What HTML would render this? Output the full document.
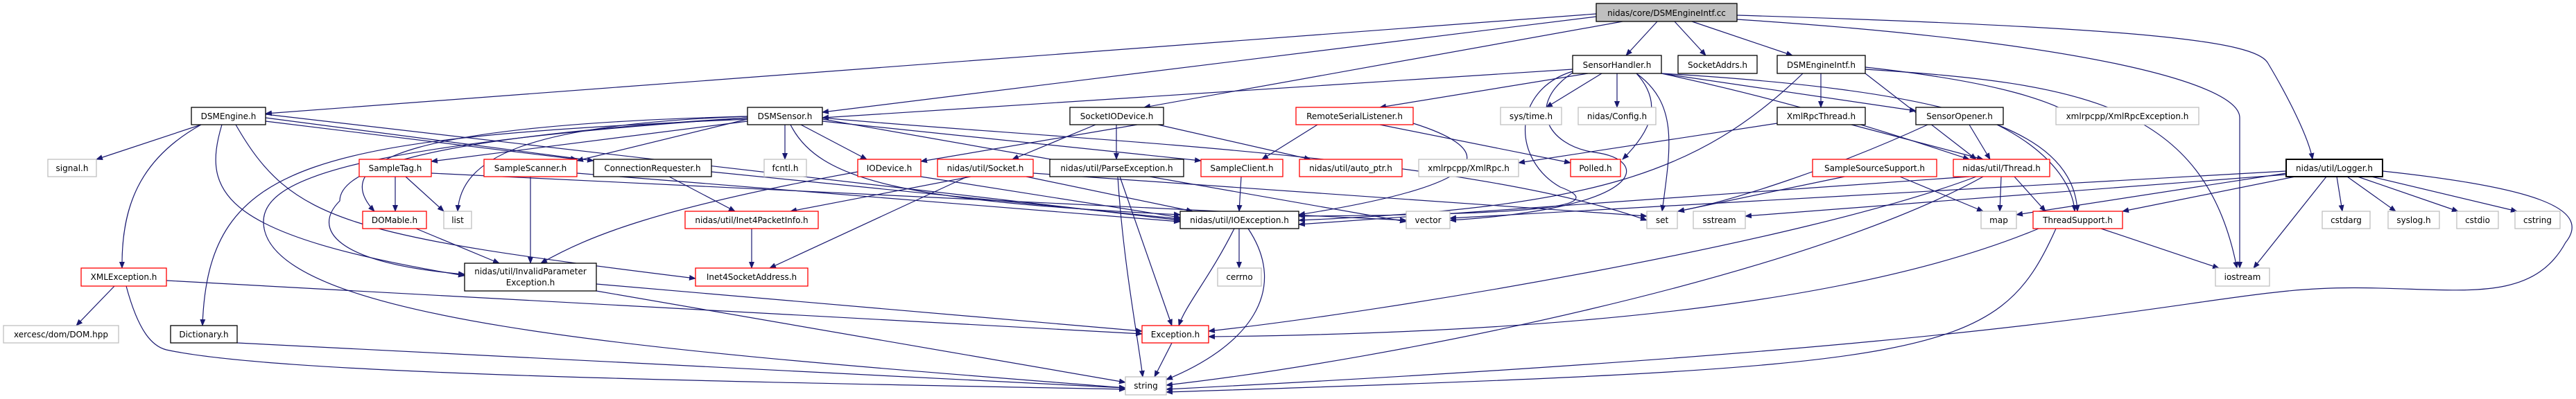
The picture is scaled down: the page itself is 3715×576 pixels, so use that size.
<!DOCTYPE html>
<html><head><meta charset="utf-8"><style>
html,body{margin:0;padding:0;background:#fff;width:3715px;height:576px;overflow:hidden}
text{font-family:"DejaVu Sans","Liberation Sans",sans-serif;font-size:12px;fill:#000}
.b{fill:#fff;stroke:#000;stroke-width:1.3}
.r{fill:#fff;stroke:#f00;stroke-width:1.3}
.g{fill:#fff;stroke:#bfbfbf;stroke-width:1.3}
.e path{fill:none;stroke:#191970;stroke-width:1.2}
</style></head><body>
<svg width="3715" height="576" viewBox="0 0 3715 576" xmlns="http://www.w3.org/2000/svg">
<defs><marker id="a" markerWidth="10" markerHeight="8" refX="9" refY="4" orient="auto" markerUnits="userSpaceOnUse"><path d="M0,0 L10,4 L0,8 z" fill="#191970"/></marker></defs>
<g class="e" marker-end="url(#a)">
<path d="M2302,20 L383,164" marker-end="url(#a)"/>
<path d="M2302,24 L1186,162" marker-end="url(#a)"/>
<path d="M2340,31 L1650,155" marker-end="url(#a)"/>
<path d="M2390,31 L2345,80" marker-end="url(#a)"/>
<path d="M2415,31 L2460,80" marker-end="url(#a)"/>
<path d="M2440,31 L2585,80" marker-end="url(#a)"/>
<path d="M2505,28 C3000,60 3230,120 3230,170 L3230,387" marker-end="url(#a)"/>
<path d="M2505,22 C3100,40 3250,60 3270,90 C3300,140 3330,200 3335,230" marker-end="url(#a)"/>
<path d="M2268,100 L1186,170" marker-end="url(#a)"/>
<path d="M2290,106 L1990,155" marker-end="url(#a)"/>
<path d="M2310,106 L2230,155" marker-end="url(#a)"/>
<path d="M2332,106 L2332,155" marker-end="url(#a)"/>
<path d="M2360,106 C2400,150 2380,190 2340,230" marker-end="url(#a)"/>
<path d="M2268,103 C2180,130 2180,230 2250,270 C2330,300 2200,310 1873,312" marker-end="url(#a)"/>
<path d="M2268,105 C2200,150 2230,210 2300,220 C2380,230 2380,300 2091,318" marker-end="url(#a)"/>
<path d="M2360,106 C2420,150 2410,210 2397,305" marker-end="url(#a)"/>
<path d="M2396,106 L2763,160" marker-end="url(#a)"/>
<path d="M2396,106 C2600,150 2750,200 2840,230" marker-end="url(#a)"/>
<path d="M2396,106 C2800,130 2990,180 2996,305" marker-end="url(#a)"/>
<path d="M2600,106 C2450,250 2300,300 1873,318" marker-end="url(#a)"/>
<path d="M2626,106 L2626,155" marker-end="url(#a)"/>
<path d="M2690,97 C2900,120 2960,150 2990,165" marker-end="url(#a)"/>
<path d="M2690,100 C3000,120 3180,150 3226,387" marker-end="url(#a)"/>
<path d="M2690,106 L2850,230" marker-end="url(#a)"/>
<path d="M2563,178 L2190,235" marker-end="url(#a)"/>
<path d="M2670,180 L2860,230" marker-end="url(#a)"/>
<path d="M2840,180 L2870,230" marker-end="url(#a)"/>
<path d="M2880,180 C2960,220 2990,270 2992,305" marker-end="url(#a)"/>
<path d="M2780,180 C2650,240 2500,290 2420,305" marker-end="url(#a)"/>
<path d="M290,180 L139,230" marker-end="url(#a)"/>
<path d="M290,180 C200,230 175,300 176,387" marker-end="url(#a)"/>
<path d="M320,180 C290,280 320,340 670,398" marker-end="url(#a)"/>
<path d="M383,170 L856,232" marker-end="url(#a)"/>
<path d="M383,175 L832,230" marker-end="url(#a)"/>
<path d="M340,180 C420,320 500,340 1003,402" marker-end="url(#a)"/>
<path d="M383,165 L1702,318" marker-end="url(#a)"/>
<path d="M1078,172 C450,200 300,230 292,470" marker-end="url(#a)"/>
<path d="M1078,175 L622,233" marker-end="url(#a)"/>
<path d="M1078,172 L832,232" marker-end="url(#a)"/>
<path d="M1078,168 C600,180 470,230 540,305" marker-end="url(#a)"/>
<path d="M1078,168 C750,180 665,230 660,305" marker-end="url(#a)"/>
<path d="M1132,180 L1132,230" marker-end="url(#a)"/>
<path d="M1155,180 L1250,230" marker-end="url(#a)"/>
<path d="M1186,175 L1732,232" marker-end="url(#a)"/>
<path d="M1078,170 C580,200 490,250 490,290 C450,330 480,380 670,396" marker-end="url(#a)"/>
<path d="M1078,170 C500,210 380,260 380,320 C380,470 1000,510 1623,560" marker-end="url(#a)"/>
<path d="M1140,180 C1180,260 1300,290 1702,310" marker-end="url(#a)"/>
<path d="M1186,172 L2028,320" marker-end="url(#a)"/>
<path d="M1186,170 C1500,200 2100,220 2375,318" marker-end="url(#a)"/>
<path d="M1640,180 L1328,233" marker-end="url(#a)"/>
<path d="M1580,180 L1460,230" marker-end="url(#a)"/>
<path d="M1610,180 L1610,230" marker-end="url(#a)"/>
<path d="M1670,180 L1890,230" marker-end="url(#a)"/>
<path d="M1900,180 L1820,230" marker-end="url(#a)"/>
<path d="M1990,180 L2265,235" marker-end="url(#a)"/>
<path d="M2038,178 C2140,210 2190,260 1873,310" marker-end="url(#a)"/>
<path d="M570,255 L570,305" marker-end="url(#a)"/>
<path d="M585,255 L640,305" marker-end="url(#a)"/>
<path d="M622,250 L2028,318" marker-end="url(#a)"/>
<path d="M765,255 L765,380" marker-end="url(#a)"/>
<path d="M832,250 L1702,320" marker-end="url(#a)"/>
<path d="M965,255 L1060,305" marker-end="url(#a)"/>
<path d="M1026,248 L1702,316" marker-end="url(#a)"/>
<path d="M1237,248 C950,300 850,340 780,380" marker-end="url(#a)"/>
<path d="M1328,255 L1702,314" marker-end="url(#a)"/>
<path d="M1400,255 L1140,305" marker-end="url(#a)"/>
<path d="M1395,255 L1110,387" marker-end="url(#a)"/>
<path d="M1480,255 L1720,305" marker-end="url(#a)"/>
<path d="M1490,250 L2375,312" marker-end="url(#a)"/>
<path d="M1615,255 L1690,470" marker-end="url(#a)"/>
<path d="M1612,255 C1620,380 1640,480 1648,544" marker-end="url(#a)"/>
<path d="M1790,255 L1787,305" marker-end="url(#a)"/>
<path d="M2740,255 L2860,305" marker-end="url(#a)"/>
<path d="M2660,255 L2420,305" marker-end="url(#a)"/>
<path d="M2886,255 L2884,305" marker-end="url(#a)"/>
<path d="M2905,255 L2950,305" marker-end="url(#a)"/>
<path d="M2840,255 L1873,324" marker-end="url(#a)"/>
<path d="M2850,255 C2600,350 2000,450 1743,478" marker-end="url(#a)"/>
<path d="M2860,255 C2600,400 2000,520 1682,556" marker-end="url(#a)"/>
<path d="M3297,250 L2908,310" marker-end="url(#a)"/>
<path d="M3297,247 L2091,315" marker-end="url(#a)"/>
<path d="M3297,252 L2517,312" marker-end="url(#a)"/>
<path d="M3310,255 L3061,305" marker-end="url(#a)"/>
<path d="M3370,255 L3378,305" marker-end="url(#a)"/>
<path d="M3385,255 L3455,305" marker-end="url(#a)"/>
<path d="M3400,255 L3545,305" marker-end="url(#a)"/>
<path d="M3420,255 L3630,305" marker-end="url(#a)"/>
<path d="M3355,255 L3250,387" marker-end="url(#a)"/>
<path d="M3436,247 C3650,270 3740,300 3700,350 C3640,460 3500,400 3300,420 C3100,440 2900,500 1682,562" marker-end="url(#a)"/>
<path d="M600,330 L720,380" marker-end="url(#a)"/>
<path d="M1084,330 L1084,387" marker-end="url(#a)"/>
<path d="M1780,330 C1745,400 1710,440 1700,470" marker-end="url(#a)"/>
<path d="M1787,330 L1787,387" marker-end="url(#a)"/>
<path d="M1800,330 C1860,420 1800,500 1682,548" marker-end="url(#a)"/>
<path d="M860,410 L1647,478" marker-end="url(#a)"/>
<path d="M860,420 L1623,552" marker-end="url(#a)"/>
<path d="M165,413 L110,470" marker-end="url(#a)"/>
<path d="M240,405 L1647,482" marker-end="url(#a)"/>
<path d="M182,413 C200,480 220,500 240,505 C400,540 1000,550 1623,562" marker-end="url(#a)"/>
<path d="M342,495 L1623,560" marker-end="url(#a)"/>
<path d="M1690,495 L1665,544" marker-end="url(#a)"/>
<path d="M2940,330 C2700,430 2300,480 1743,486" marker-end="url(#a)"/>
<path d="M2965,330 C2880,520 2800,530 1682,566" marker-end="url(#a)"/>
<path d="M3030,330 L3200,387" marker-end="url(#a)"/>
</g>
<g>
<rect x="2302" y="5" width="203" height="26" fill="#bfbfbf" stroke="#000" stroke-width="1.3"/><text x="2403.5" y="23" text-anchor="middle">nidas/core/DSMEngineIntf.cc</text>
<rect class="b" x="2268" y="80" width="128" height="26"/><text x="2332" y="98" text-anchor="middle">SensorHandler.h</text>
<rect class="b" x="2420" y="80" width="114" height="26"/><text x="2477" y="98" text-anchor="middle">SocketAddrs.h</text>
<rect class="b" x="2563" y="80" width="127" height="26"/><text x="2626.5" y="98" text-anchor="middle">DSMEngineIntf.h</text>
<rect class="b" x="276" y="155" width="107" height="25"/><text x="329.5" y="172" text-anchor="middle">DSMEngine.h</text>
<rect class="b" x="1078" y="155" width="108" height="25"/><text x="1132" y="172" text-anchor="middle">DSMSensor.h</text>
<rect class="b" x="1543" y="155" width="135" height="25"/><text x="1610.5" y="172" text-anchor="middle">SocketIODevice.h</text>
<rect class="r" x="1869" y="155" width="169" height="25"/><text x="1953.5" y="172" text-anchor="middle">RemoteSerialListener.h</text>
<rect class="g" x="2164" y="155" width="88" height="25"/><text x="2208" y="172" text-anchor="middle">sys/time.h</text>
<rect class="g" x="2276" y="155" width="112" height="25"/><text x="2332" y="172" text-anchor="middle">nidas/Config.h</text>
<rect class="b" x="2563" y="155" width="127" height="25"/><text x="2626.5" y="172" text-anchor="middle">XmlRpcThread.h</text>
<rect class="b" x="2763" y="155" width="126" height="25"/><text x="2826" y="172" text-anchor="middle">SensorOpener.h</text>
<rect class="g" x="2965" y="155" width="206" height="25"/><text x="3068" y="172" text-anchor="middle">xmlrpcpp/XmlRpcException.h</text>
<rect class="g" x="69" y="230" width="70" height="25"/><text x="104" y="247" text-anchor="middle">signal.h</text>
<rect class="r" x="518" y="230" width="104" height="25"/><text x="570" y="247" text-anchor="middle">SampleTag.h</text>
<rect class="r" x="698" y="230" width="134" height="25"/><text x="765" y="247" text-anchor="middle">SampleScanner.h</text>
<rect class="b" x="856" y="230" width="170" height="25"/><text x="941" y="247" text-anchor="middle">ConnectionRequester.h</text>
<rect class="g" x="1102" y="230" width="61" height="25"/><text x="1132.5" y="247" text-anchor="middle">fcntl.h</text>
<rect class="r" x="1237" y="230" width="91" height="25"/><text x="1282.5" y="247" text-anchor="middle">IODevice.h</text>
<rect class="r" x="1352" y="230" width="138" height="25"/><text x="1421" y="247" text-anchor="middle">nidas/util/Socket.h</text>
<rect class="b" x="1514" y="230" width="193" height="25"/><text x="1610.5" y="247" text-anchor="middle">nidas/util/ParseException.h</text>
<rect class="r" x="1732" y="230" width="118" height="25"/><text x="1791" y="247" text-anchor="middle">SampleClient.h</text>
<rect class="r" x="1874" y="230" width="148" height="25"/><text x="1948" y="247" text-anchor="middle">nidas/util/auto_ptr.h</text>
<rect class="g" x="2046" y="230" width="144" height="25"/><text x="2118" y="247" text-anchor="middle">xmlrpcpp/XmlRpc.h</text>
<rect class="r" x="2265" y="230" width="72" height="25"/><text x="2301" y="247" text-anchor="middle">Polled.h</text>
<rect class="r" x="2614" y="230" width="179" height="25"/><text x="2703.5" y="247" text-anchor="middle">SampleSourceSupport.h</text>
<rect class="r" x="2817" y="230" width="139" height="25"/><text x="2886.5" y="247" text-anchor="middle">nidas/util/Thread.h</text>
<rect x="3297" y="230" width="139" height="25" fill="#fff" stroke="#000" stroke-width="2"/><text x="3366.5" y="247" text-anchor="middle">nidas/util/Logger.h</text>
<rect class="r" x="523" y="305" width="92" height="25"/><text x="569" y="322" text-anchor="middle">DOMable.h</text>
<rect class="g" x="640" y="305" width="40" height="25"/><text x="660" y="322" text-anchor="middle">list</text>
<rect class="r" x="988" y="305" width="192" height="25"/><text x="1084" y="322" text-anchor="middle">nidas/util/Inet4PacketInfo.h</text>
<rect class="b" x="1702" y="305" width="171" height="25"/><text x="1787.5" y="322" text-anchor="middle">nidas/util/IOException.h</text>
<rect class="g" x="2028" y="305" width="63" height="25"/><text x="2059.5" y="322" text-anchor="middle">vector</text>
<rect class="g" x="2375" y="305" width="44" height="25"/><text x="2397" y="322" text-anchor="middle">set</text>
<rect class="g" x="2442" y="305" width="75" height="25"/><text x="2479.5" y="322" text-anchor="middle">sstream</text>
<rect class="g" x="2857" y="305" width="51" height="25"/><text x="2882.5" y="322" text-anchor="middle">map</text>
<rect class="r" x="2932" y="305" width="129" height="25"/><text x="2996.5" y="322" text-anchor="middle">ThreadSupport.h</text>
<rect class="g" x="3349" y="305" width="69" height="25"/><text x="3383.5" y="322" text-anchor="middle">cstdarg</text>
<rect class="g" x="3444" y="305" width="74" height="25"/><text x="3481" y="322" text-anchor="middle">syslog.h</text>
<rect class="g" x="3543" y="305" width="60" height="25"/><text x="3573" y="322" text-anchor="middle">cstdio</text>
<rect class="g" x="3627" y="305" width="65" height="25"/><text x="3659.5" y="322" text-anchor="middle">cstring</text>
<rect class="r" x="117" y="387" width="123" height="26"/><text x="178.5" y="404" text-anchor="middle">XMLException.h</text>
<rect class="b" x="670" y="380" width="190" height="40"/><text x="765" y="396" text-anchor="middle">nidas/util/InvalidParameter</text><text x="765" y="412" text-anchor="middle">Exception.h</text>
<rect class="r" x="1003" y="387" width="162" height="26"/><text x="1084" y="404" text-anchor="middle">Inet4SocketAddress.h</text>
<rect class="g" x="1756" y="387" width="63" height="26"/><text x="1787.5" y="404" text-anchor="middle">cerrno</text>
<rect class="g" x="3195" y="387" width="78" height="26"/><text x="3234" y="404" text-anchor="middle">iostream</text>
<rect class="g" x="5" y="470" width="166" height="25"/><text x="88" y="487" text-anchor="middle">xercesc/dom/DOM.hpp</text>
<rect class="b" x="246" y="470" width="96" height="25"/><text x="294" y="487" text-anchor="middle">Dictionary.h</text>
<rect class="r" x="1647" y="470" width="96" height="25"/><text x="1695" y="487" text-anchor="middle">Exception.h</text>
<rect class="g" x="1623" y="544" width="59" height="26"/><text x="1652.5" y="561" text-anchor="middle">string</text>
</g>
</svg>
</body></html>
